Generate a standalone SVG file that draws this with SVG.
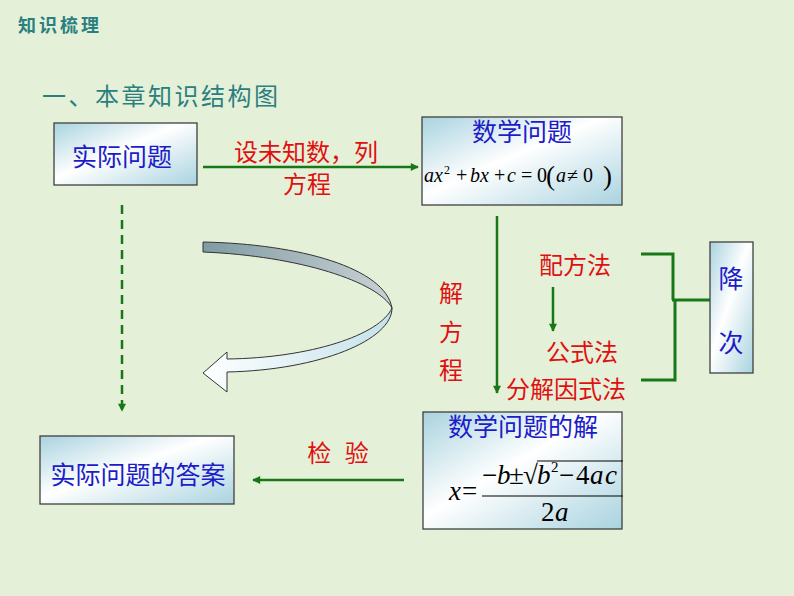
<svg xmlns="http://www.w3.org/2000/svg" width="794" height="596" viewBox="0 0 794 596">
<defs>
<style>
.cn{font-family:"Noto Sans CJK SC","Noto Sans",sans-serif;}
.blue{fill:#1c1cc8;font-size:25px;text-anchor:middle;}
.red{fill:#e01010;font-size:24px;text-anchor:middle;}
.box{stroke:#404040;stroke-width:1.3;fill:url(#boxg);}
.ln{stroke:#187818;stroke-width:2.5;fill:none;}
.br{stroke:#187818;stroke-width:3;fill:none;}
.m{font-family:"Liberation Serif","Times New Roman",serif;fill:#000;}
.i{font-style:italic;}
</style>
<linearGradient id="boxg" x1="0" y1="0" x2="1" y2="1">
<stop offset="0" stop-color="#a9d3df"/>
<stop offset="0.45" stop-color="#ffffff"/>
<stop offset="1" stop-color="#a9d3df"/>
</linearGradient>
<linearGradient id="upg" x1="0" y1="0" x2="1" y2="0">
<stop offset="0" stop-color="#7f9ca2"/>
<stop offset="1" stop-color="#c9d1d5"/>
</linearGradient>
<linearGradient id="lowg" x1="0" y1="0" x2="1" y2="0">
<stop offset="0" stop-color="#ffffff"/>
<stop offset="1" stop-color="#c4e2ea"/>
</linearGradient>
<marker id="ah" viewBox="0 0 10 10" refX="9" refY="5" markerWidth="9" markerHeight="8" markerUnits="userSpaceOnUse" orient="auto">
<path d="M0,0 L10,5 L0,10 z" fill="#187818"/>
</marker>
</defs>
<rect x="0" y="0" width="794" height="596" fill="#e5f0d8"/>

<text class="cn" x="18" y="32" font-size="18" font-weight="bold" fill="#2a8080" letter-spacing="3">知识梳理</text>
<text class="cn" x="42" y="105" font-size="24" fill="#2a8080" letter-spacing="2.5">一、本章知识结构图</text>

<g id="connectors">
<line class="ln" x1="203" y1="167" x2="418" y2="167" marker-end="url(#ah)"/>
<line class="ln" x1="122" y1="205" x2="122" y2="411" stroke-dasharray="9,6" marker-end="url(#ah)"/>
<line class="ln" x1="497" y1="216" x2="497" y2="393" marker-end="url(#ah)"/>
<line class="ln" x1="553" y1="287" x2="553" y2="331" marker-end="url(#ah)"/>
<line class="ln" x1="404" y1="480" x2="253" y2="480" marker-end="url(#ah)"/>
<polyline class="br" points="641,254 673,254 673,300"/>
<polyline class="br" points="641,380 675,380 675,300"/>
<line class="br" x1="672" y1="300" x2="710" y2="300"/>
<path d="M203,242 C300,244 385,268 392,308 C378,282 300,256 203,252 Z" fill="url(#upg)" stroke="#333" stroke-width="1"/>
<path d="M392,308 C392,340 320,370 227,372 L227,392 L203,373 L227,352 L227,359 C310,358 380,335 392,308 Z" fill="url(#lowg)" stroke="#333" stroke-width="1"/>
</g>

<g id="label-set">
<text class="cn red" x="306" y="161" font-size="23">设未知数，列</text>
<text class="cn red" x="307" y="193" font-size="23">方程</text>
</g>
<g id="label-solve">
<text class="cn red" x="451" y="302">解</text>
<text class="cn red" x="451" y="341">方</text>
<text class="cn red" x="451" y="379">程</text>
</g>
<g id="label-check">
<text class="cn red" x="340" y="462" letter-spacing="4">检 验</text>
</g>

<g id="n-peifang"><text class="cn red" x="575" y="274" font-size="25">配方法</text></g>
<g id="n-gongshi"><text class="cn red" x="582" y="361" font-size="25">公式法</text></g>
<g id="n-fenjie"><text class="cn red" x="566" y="398" font-size="25">分解因式法</text></g>

<g id="n-real">
<rect class="box" x="54" y="123" width="143" height="62"/>
<text class="cn blue" x="122" y="166" font-size="26">实际问题</text>
</g>

<g id="n-math">
<rect class="box" x="422" y="117" width="200" height="88"/>
<text class="cn blue" x="522" y="141">数学问题</text>
<text class="m" font-size="20" y="182"><tspan class="i" x="424">a</tspan><tspan class="i" x="434">x</tspan><tspan x="444" y="174" font-size="12">2</tspan><tspan x="456" y="182">+</tspan><tspan class="i" x="470">b</tspan><tspan class="i" x="480">x</tspan><tspan x="494">+</tspan><tspan class="i" x="507">c</tspan><tspan x="521">=</tspan><tspan x="537">0</tspan><tspan x="546" font-size="27" y="185">(</tspan><tspan class="i" x="556" y="182">a</tspan><tspan x="567">≠</tspan><tspan x="583">0</tspan><tspan x="603" font-size="27" y="185">)</tspan></text>
</g>

<g id="n-jiangci">
<rect class="box" x="710" y="242" width="43" height="131"/>
<text class="cn blue" x="731" y="288">降</text>
<text class="cn blue" x="731" y="352">次</text>
</g>

<g id="n-answer">
<rect class="box" x="40" y="436" width="194" height="68"/>
<text class="cn blue" x="138" y="484" font-size="26">实际问题的答案</text>
</g>

<g id="n-solution">
<rect class="box" x="423" y="412" width="199" height="117"/>
<text class="cn blue" x="523" y="436" font-size="26">数学问题的解</text>
<text class="m" font-size="27"><tspan class="i" x="449" y="500">x</tspan><tspan x="462" y="500">=</tspan><tspan x="482" y="484">−</tspan><tspan class="i" x="497" y="484">b</tspan><tspan x="509" y="484">±</tspan><tspan x="523" y="484">√</tspan><tspan class="i" x="537" y="484">b</tspan><tspan x="551" y="472" font-size="15">2</tspan><tspan x="559" y="484">−</tspan><tspan x="576" y="484">4</tspan><tspan class="i" x="590" y="484">a</tspan><tspan class="i" x="605" y="484">c</tspan><tspan x="541" y="521">2</tspan><tspan class="i" x="555" y="521">a</tspan></text>
<line x1="537" y1="461" x2="623" y2="461" stroke="#000" stroke-width="1.2"/>
<line x1="482" y1="496" x2="623" y2="496" stroke="#000" stroke-width="1.2"/>
</g>
</svg>
